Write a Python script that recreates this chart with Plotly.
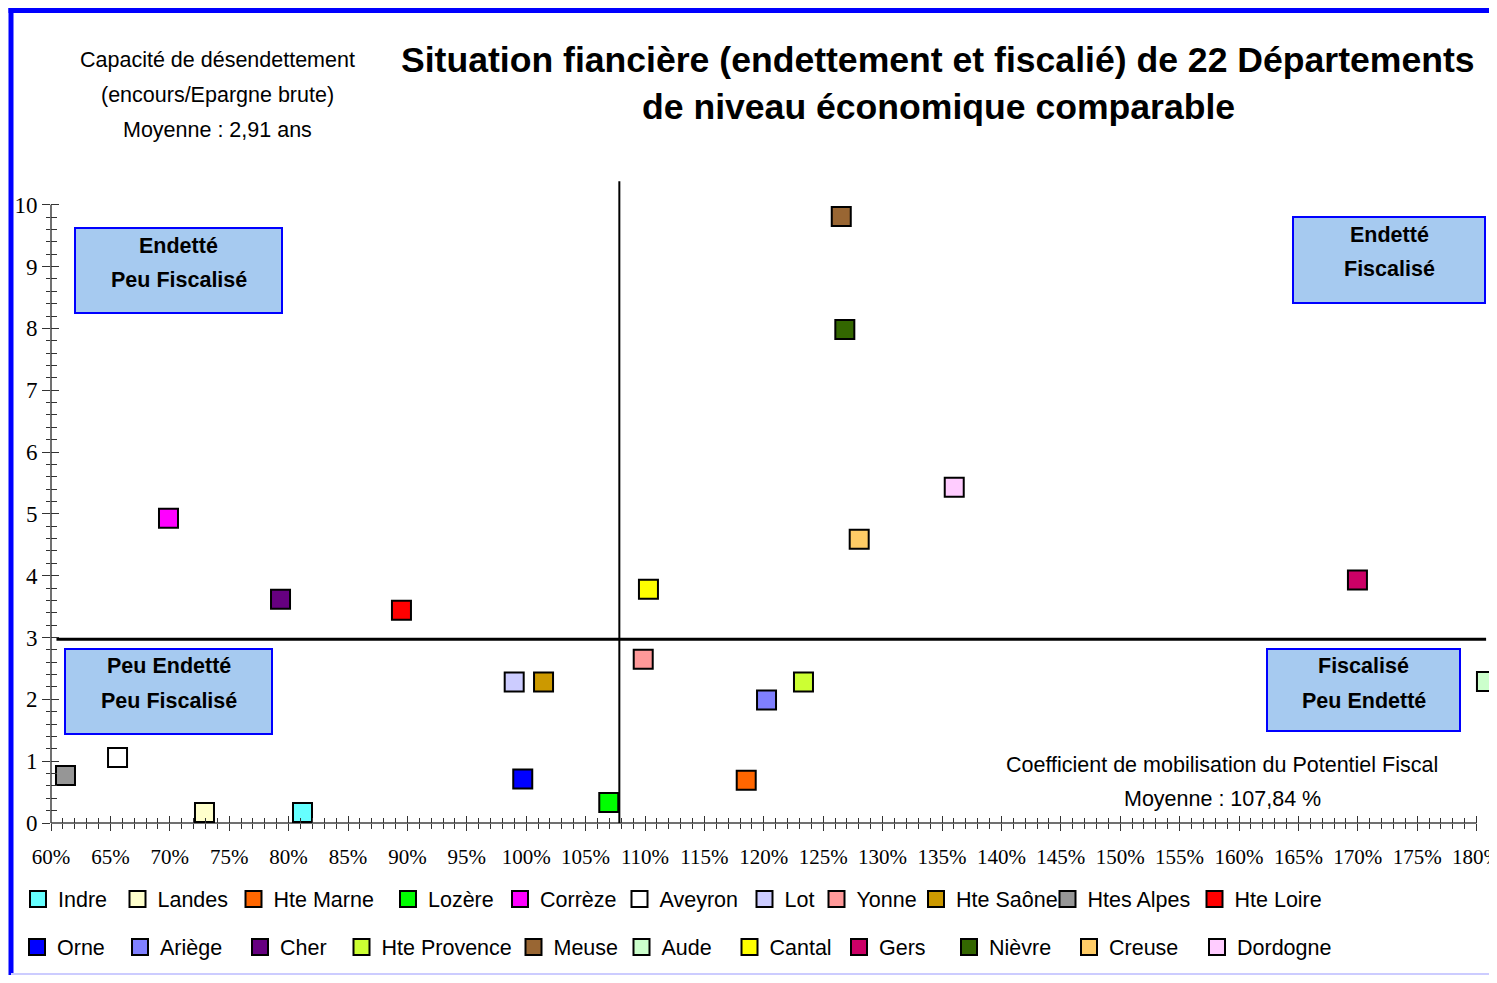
import plotly.graph_objects as go

# ---------------- data ----------------
departements = ["Indre", "Landes", "Hte Marne", "Lozère", "Corrèze", "Aveyron", "Lot", "Yonne",
                "Hte Saône", "Htes Alpes", "Hte Loire",
                "Orne", "Ariège", "Cher", "Hte Provence", "Meuse", "Aude", "Cantal", "Gers",
                "Nièvre", "Creuse", "Dordogne"]
coef_potentiel_fiscal = [81.17, 72.92, 118.52, 106.95, 69.89, 65.60, 98.99, 109.85,
                         101.46, 61.22, 89.50,
                         99.71, 120.23, 79.32, 123.34, 126.52, 180.83, 110.29, 169.97,
                         126.82, 128.03, 136.03]
capacite_desendettement = [0.17, 0.17, 0.69, 0.33, 4.93, 1.06, 2.28, 2.65,
                           2.28, 0.77, 3.44,
                           0.71, 1.99, 3.62, 2.28, 9.81, 2.29, 3.78, 3.93,
                           7.98, 4.59, 5.43]
couleurs = ["#66FFFF", "#FFFFCC", "#FF6600", "#00FF00", "#FF00FF", "#FFFFFF", "#CCCCFF", "#FF9999",
            "#CC9900", "#969696", "#FF0000",
            "#0000FF", "#8080FF", "#660080", "#CCFF33", "#996633", "#CCFFCC", "#FFFF00", "#CC0066",
            "#336600", "#FFCC66", "#FFCCFF"]

moyenne_fiscal = 107.84      # vertical reference line
ligne_capacite = 2.97        # horizontal reference line as drawn

x_tick_values = list(range(60, 181, 5))
x_tick_labels = [f"{v}%" for v in x_tick_values]
x_minor_values = [v for v in range(60, 181) if v % 5 != 0]
y_tick_values = list(range(0, 11))
y_tick_labels = [str(v) for v in y_tick_values]
y_minor_values = [round(i * 0.2, 1) for i in range(0, 51) if i % 5 != 0]

titre = ["Situation fiancière (endettement et fiscalié) de 22 Départements",
         "de niveau économique comparable"]
texte_y = ["Capacité de désendettement", "(encours/Epargne brute)", "Moyenne : 2,91 ans"]
texte_x = ["Coefficient de mobilisation du Potentiel Fiscal", "Moyenne : 107,84 %"]
quadrants = [("Endetté", "Peu Fiscalisé"), ("Endetté", "Fiscalisé"),
             ("Peu Endetté", "Peu Fiscalisé"), ("Fiscalisé", "Peu Endetté")]

# ---------------- layout (page pixel positions) ----------------
OFF = 8                      # page body margin
FW, FH = 1489, 967
L, R, T, B = 43, 0, 172, 152
W, H = FW - L - R, FH - T - B
PX_PER_PCT = 11.88
X_MAX = 60 + W / PX_PER_PCT
Y_MAX = 10.4


def fx(px):
    return (px - OFF - L) / W


def fy(py):
    return 1 - (py - OFF - T) / H


SANS = "Liberation Sans, Arial, sans-serif"
SERIF = "Liberation Serif, Times New Roman, serif"

# legend entry placement: (symbol centre x, text start x, row centre y)
legend_sym_x = [33, 135, 252, 404, 519, 639, 765, 838, 938, 1067, 1214,
                32, 135, 257, 362, 532, 641, 748, 862, 969, 1087, 1214]
legend_txt_x = [63, 160, 275, 432, 541, 660, 784, 855, 954, 1088, 1235,
                62, 165, 283, 381, 555, 662, 771, 876, 989, 1111, 1240]
legend_row_y = [899] * 11 + [947] * 11

fig = go.Figure()

legend_layouts = {}
for i, (name, xv, yv, col) in enumerate(zip(departements, coef_potentiel_fiscal,
                                            capacite_desendettement, couleurs)):
    lid = "legend" if i == 0 else f"legend{i + 1}"
    fig.add_trace(go.Scatter(
        x=[xv], y=[yv], mode="markers", name=name, legend=lid,
        marker=dict(symbol="square", size=19, color=col, line=dict(color="black", width=2)),
        cliponaxis=False, hoverinfo="name"))
    lx = ((legend_sym_x[i] - 20) + (legend_txt_x[i] - 40)) / 2
    legend_layouts[lid] = dict(orientation="h", xanchor="left", yanchor="middle",
                               x=fx(lx), y=fy(legend_row_y[i]),
                               font=dict(family=SANS, size=21.5, color="black"),
                               bgcolor="rgba(0,0,0,0)", itemwidth=30,
                               itemclick=False, itemdoubleclick=False)

# invisible trace for the overlay axes (inside ticks)
fig.add_trace(go.Scatter(x=[None], y=[None], xaxis="x2", yaxis="y2", showlegend=False,
                         hoverinfo="skip"))

shapes = []
# axis lines
shapes.append(dict(type="line", xref="paper", yref="paper", x0=0, x1=(180 - 60) / (X_MAX - 60),
                   y0=0, y1=0, line=dict(color="#404040", width=1.5), layer="below"))
shapes.append(dict(type="line", xref="paper", yref="paper", x0=0, x1=0,
                   y0=0, y1=10 / Y_MAX, line=dict(color="#404040", width=1.5), layer="below"))
# reference lines
shapes.append(dict(type="line", xref="x", yref="y", x0=60.46, x1=180.8,
                   y0=ligne_capacite, y1=ligne_capacite, line=dict(color="black", width=3),
                   layer="below"))
shapes.append(dict(type="line", xref="x", yref="y", x0=moyenne_fiscal, x1=moyenne_fiscal,
                   y0=0, y1=10.38, line=dict(color="black", width=2), layer="below"))

# quadrant boxes (page pixel rectangles)
boxes = [(75, 228, 282, 313), (1293, 217, 1485, 303), (65, 649, 272, 734), (1267, 649, 1460, 731)]
box_lines = [(246, 280), (235, 269), (666, 701), (666, 701)]
annotations = []
for (x0, y0, x1, y1), (l1, l2), (t1, t2) in zip(boxes, box_lines, quadrants):
    shapes.append(dict(type="rect", xref="paper", yref="paper", x0=fx(x0), x1=fx(x1),
                       y0=fy(y0), y1=fy(y1), fillcolor="#A6CAF0",
                       line=dict(color="#0000FF", width=2), layer="above"))
    cx = (x0 + x1) / 2
    for txt, py in ((t1, l1), (t2, l2)):
        annotations.append(dict(text=txt, x=fx(cx), y=fy(py), xref="paper", yref="paper",
                                xanchor="center", yanchor="middle", showarrow=False,
                                font=dict(family=SANS, size=21.5, color="black", weight="bold")))

# outer frame
shapes.append(dict(type="line", xref="paper", yref="paper", x0=fx(8.5), x1=fx(1510),
                   y0=fy(10.5), y1=fy(10.5), line=dict(color="#0000FF", width=5)))
shapes.append(dict(type="line", xref="paper", yref="paper", x0=fx(11), x1=fx(11),
                   y0=fy(8), y1=fy(990), line=dict(color="#0000FF", width=5)))
shapes.append(dict(type="line", xref="paper", yref="paper", x0=fx(11), x1=fx(1510),
                   y0=fy(974), y1=fy(974), line=dict(color="#CCCCFF", width=2)))

# title
for txt, py in zip(titre, (60, 107)):
    annotations.append(dict(text=txt, x=fx(938), y=fy(py), xref="paper", yref="paper",
                            xanchor="center", yanchor="middle", showarrow=False,
                            font=dict(family=SANS, size=35.6, color="black", weight="bold")))
for txt, py in zip(texte_y, (60, 95, 130)):
    annotations.append(dict(text=txt, x=fx(217), y=fy(py), xref="paper", yref="paper",
                            xanchor="center", yanchor="middle", showarrow=False,
                            font=dict(family=SANS, size=21.5, color="black")))
for txt, py in zip(texte_x, (765, 799)):
    annotations.append(dict(text=txt, x=fx(1222), y=fy(py), xref="paper", yref="paper",
                            xanchor="center", yanchor="middle", showarrow=False,
                            font=dict(family=SANS, size=21.5, color="black")))

tick_col = "#333333"

fig.update_layout(
    width=FW, height=FH,
    margin=dict(l=L, r=R, t=T, b=B, autoexpand=False),
    paper_bgcolor="white", plot_bgcolor="white",
    showlegend=True,
    xaxis=dict(range=[60, X_MAX], tickmode="array", tickvals=x_tick_values,
               ticktext=x_tick_labels, ticks="outside", ticklen=7, tickwidth=1.3,
               tickcolor=tick_col, showline=False, showgrid=False, zeroline=False,
               tickfont=dict(family=SERIF, size=21, color="black"), ticklabelstandoff=8,
               ticklabeloverflow="allow",
               minor=dict(tickmode="array", tickvals=x_minor_values, ticks="outside",
                          ticklen=5, tickwidth=1.2, tickcolor=tick_col, showgrid=False),
               fixedrange=True),
    yaxis=dict(range=[0, Y_MAX], tickmode="array", tickvals=y_tick_values,
               ticktext=y_tick_labels, ticks="outside", ticklen=8, tickwidth=1.3,
               tickcolor=tick_col, showline=False, showgrid=False, zeroline=False,
               tickfont=dict(family=SERIF, size=23, color="black"), ticklabelstandoff=0,
               ticklabeloverflow="allow",
               minor=dict(tickmode="array", tickvals=y_minor_values, ticks="outside",
                          ticklen=4, tickwidth=1.2, tickcolor=tick_col, showgrid=False),
               fixedrange=True),
    xaxis2=dict(range=[60, X_MAX], overlaying="x", anchor="y", side="bottom",
                tickmode="array", tickvals=x_tick_values, ticks="inside", ticklen=7,
                tickwidth=1.3, tickcolor=tick_col, showticklabels=False, showgrid=False,
                zeroline=False, showline=False,
                minor=dict(tickmode="array", tickvals=x_minor_values, ticks="inside",
                           ticklen=5, tickwidth=1.2, tickcolor=tick_col, showgrid=False),
                fixedrange=True),
    yaxis2=dict(range=[0, Y_MAX], overlaying="y", anchor="x", side="left",
                tickmode="array", tickvals=y_tick_values, ticks="inside", ticklen=7.5,
                tickwidth=1.3, tickcolor=tick_col, showticklabels=False, showgrid=False,
                zeroline=False, showline=False,
                minor=dict(tickmode="array", tickvals=y_minor_values, ticks="inside",
                           ticklen=5.5, tickwidth=1.2, tickcolor=tick_col, showgrid=False),
                fixedrange=True),
    shapes=shapes,
    annotations=annotations,
    hovermode="closest",
    **legend_layouts,
)

fig.write_html("out.html", config={"displayModeBar": False})
